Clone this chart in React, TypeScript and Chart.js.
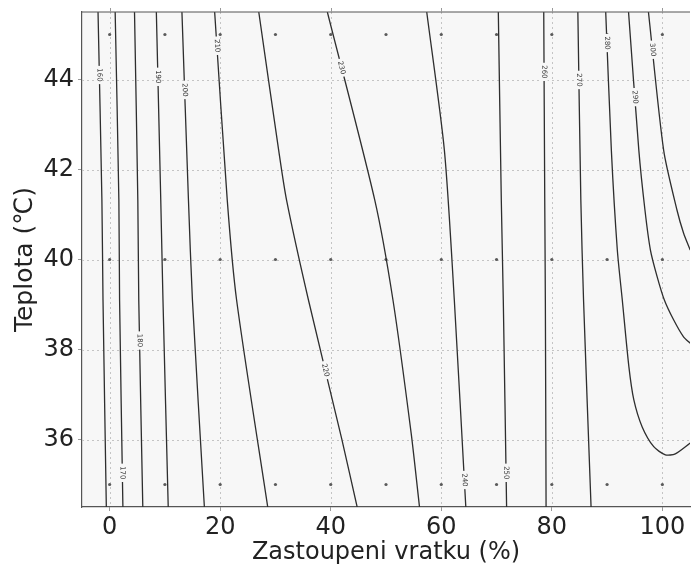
import React, { useEffect, useRef } from 'react';
import { Chart, registerables } from 'chart.js';

Chart.register(...registerables);

// Axis ticks
const xTicks = [0, 20, 40, 60, 80, 100];
const yTicks = [36, 38, 40, 42, 44];

// Measurement grid (sample points)
const sampleX = [0, 10, 20, 30, 40, 50, 60, 70, 80, 90, 100];
const sampleY = [35, 40, 45];

// Contour levels
const levels = [160, 170, 180, 190, 200, 210, 220, 230, 240, 250, 260, 270, 280, 290, 300];

// Contour lines, [x, y] in data units
const c160 = [[-2.1, 45.5], [-1.4, 41.32], [-1.2, 39.1], [-0.6, 34.5]];
const c170 = [[1.0, 45.5], [1.67, 41.32], [1.8, 39.1], [2.4, 34.5]];
const c180 = [[4.5, 45.5], [5.1, 41.32], [5.27, 39.1], [6.0, 34.5]];
const c190 = [[8.45, 45.5], [9.25, 41.32], [9.65, 39.1], [10.6, 34.5]];
const c200 = [[13.08, 45.5], [14.26, 41.32], [14.98, 39.1], [17.14, 34.5]];
const c210 = [[19.0, 45.5], [21.28, 41.32], [22.97, 39.1], [28.6, 34.5]];
const c220 = [[26.98, 45.5], [30.58, 42.43], [32.01, 41.32], [35.97, 39.1], [41.96, 36.03], [44.78, 34.5]];
const c230 = [[39.39, 45.5], [47.97, 41.32], [51.26, 39.1], [54.55, 36.14], [56.06, 34.5]];
const c240 = [[57.37, 45.5], [60.56, 42.43], [62.36, 39.1], [64.44, 34.5]];
const c250 = [[70.32, 45.5], [70.86, 41.32], [71.22, 39.1], [71.82, 34.5]];
const c260 = [[78.54, 45.5], [78.72, 41.32], [78.83, 39.1], [78.96, 34.5]];
const c270 = [[84.71, 45.5], [85.25, 41.32], [85.74, 39.1], [87.1, 34.5]];
const c280 = [[89.75, 45.5], [90.77, 42.43], [91.85, 40.21], [92.75, 39.1], [93.94, 37.62], [94.84, 36.88], [96.35, 36.28], [98.44, 35.84], [100.54, 35.66], [102.34, 35.68], [105.04, 35.92]];
const c290 = [[93.88, 45.5], [95.74, 42.43], [96.85, 41.1], [97.84, 40.21], [99.05, 39.62], [100.36, 39.1], [102.03, 38.66], [103.83, 38.28], [105.04, 38.14]];
const c300 = [[97.48, 45.5], [100.23, 42.43], [102.64, 41.1], [103.83, 40.59], [105.04, 40.21]];

const contours = [c160, c170, c180, c190, c200, c210, c220, c230, c240, c250, c260, c270, c280, c290, c300];

// Inline contour label anchors (data units)
const labelX = [-1.87, 2.3, 5.41, 8.63, 13.61, 19.3, 39.2, 41.5, 64.2, 71.72, 78.6, 84.9, 89.98, 95.0, 98.23];
const labelY = [44.1, 35.26, 38.2, 44.06, 43.77, 44.75, 37.54, 44.26, 35.1, 35.26, 44.17, 43.99, 44.81, 43.61, 44.66];

const xTitle = 'Zastoupeni vratku (%)';
const yTitle = 'Teplota (℃)';

const PLOT_BG = '#f7f7f7';
const LINE_COLOR = '#2e2e2e';
const TEXT_COLOR = '#222222';
const FONT = 'DejaVu Sans';

function xOnLine(pts: number[][], y: number): number {
  for (let k = 0; k < pts.length - 1; k++) {
    const a = pts[k];
    const b = pts[k + 1];
    if ((a[1] - y) * (b[1] - y) <= 0 && a[1] !== b[1]) {
      return a[0] + ((y - a[1]) / (b[1] - a[1])) * (b[0] - a[0]);
    }
  }
  return pts[0][0];
}

const decorPlugin = {
  id: 'decor',
  beforeDraw(chart: any) {
    const { ctx, chartArea: a } = chart;
    ctx.save();
    ctx.fillStyle = PLOT_BG;
    ctx.fillRect(a.left, a.top, a.right - a.left, a.bottom - a.top);
    ctx.restore();
  },
  beforeDatasetsDraw(chart: any) {
    const { ctx, chartArea: a, scales } = chart;
    ctx.save();
    ctx.strokeStyle = '#c4c4c4';
    ctx.lineWidth = 1;
    ctx.setLineDash([2, 3]);
    xTicks.forEach((v) => {
      const px = Math.round(scales.x.getPixelForValue(v)) + 0.5;
      ctx.beginPath();
      ctx.moveTo(px, a.top);
      ctx.lineTo(px, a.bottom);
      ctx.stroke();
    });
    yTicks.forEach((v) => {
      const py = Math.round(scales.y.getPixelForValue(v)) + 0.5;
      ctx.beginPath();
      ctx.moveTo(a.left, py);
      ctx.lineTo(a.right, py);
      ctx.stroke();
    });
    ctx.restore();
  },
  afterDatasetsDraw(chart: any) {
    const { ctx, chartArea: a, scales } = chart;
    const xs = scales.x;
    const ys = scales.y;
    ctx.save();
    ctx.font = `7px "${FONT}"`;
    ctx.textAlign = 'center';
    ctx.textBaseline = 'middle';
    levels.forEach((lvl, i) => {
      const pts = contours[i];
      const ly = labelY[i];
      const lx = Math.abs(xOnLine(pts, ly) - labelX[i]) < 2 ? xOnLine(pts, ly) : labelX[i];
      let j = 0;
      for (let k = 0; k < pts.length - 1; k++) {
        if ((pts[k][1] - ly) * (pts[k + 1][1] - ly) <= 0) { j = k; break; }
      }
      const x1 = xs.getPixelForValue(pts[j][0]);
      const y1 = ys.getPixelForValue(pts[j][1]);
      const x2 = xs.getPixelForValue(pts[j + 1][0]);
      const y2 = ys.getPixelForValue(pts[j + 1][1]);
      let ang = Math.atan2(y2 - y1, x2 - x1);
      if (ang > Math.PI / 2) ang -= Math.PI;
      if (ang < -Math.PI / 2) ang += Math.PI;
      const px = xs.getPixelForValue(lx);
      const py = ys.getPixelForValue(ly);
      const txt = String(lvl);
      const w = ctx.measureText(txt).width;
      ctx.save();
      ctx.translate(px, py);
      ctx.rotate(ang);
      ctx.fillStyle = PLOT_BG;
      ctx.fillRect(-w / 2 - 2.5, -3.5, w + 5, 7);
      ctx.fillStyle = '#333';
      ctx.fillText(txt, 0, 0);
      ctx.restore();
    });
    ctx.restore();
    // top border and top ticks
    ctx.save();
    ctx.strokeStyle = '#555';
    ctx.lineWidth = 1.2;
    ctx.beginPath();
    ctx.moveTo(a.left, a.top);
    ctx.lineTo(a.right, a.top);
    ctx.stroke();
    ctx.strokeStyle = '#999';
    ctx.lineWidth = 1;
    xTicks.forEach((v) => {
      const px = Math.round(xs.getPixelForValue(v)) + 0.5;
      ctx.beginPath();
      ctx.moveTo(px, a.top - 4);
      ctx.lineTo(px, a.top);
      ctx.stroke();
    });
    ctx.restore();
  },
};

export default function App() {
  const canvasRef = useRef<HTMLCanvasElement | null>(null);

  useEffect(() => {
    const canvas = canvasRef.current;
    if (!canvas) return;

    const lineSets = contours.map((pts, i) => ({
      label: String(levels[i]),
      data: pts.map(([x, y]) => ({ x, y })),
      showLine: true,
      borderColor: LINE_COLOR,
      borderWidth: 1.3,
      pointRadius: 0,
      tension: 0.25,
      fill: false,
    }));

    const dots: { x: number; y: number }[] = [];
    sampleY.forEach((y) => sampleX.forEach((x) => dots.push({ x, y })));

    const chart = new Chart(canvas, {
      type: 'scatter',
      data: {
        datasets: [
          ...lineSets,
          {
            label: 'samples',
            data: dots,
            showLine: false,
            pointRadius: 1.6,
            pointBackgroundColor: '#5a5a5a',
            pointBorderWidth: 0,
            borderColor: '#5a5a5a',
          } as any,
        ],
      },
      options: {
        responsive: false,
        animation: false,
        devicePixelRatio: 1,
        layout: { padding: { top: 12, left: 0, right: 0, bottom: 0 } },
        plugins: {
          legend: { display: false },
          tooltip: { enabled: false },
        },
        scales: {
          x: {
            type: 'linear',
            position: 'bottom',
            min: -5,
            max: 105,
            afterBuildTicks: (s: any) => { s.ticks = xTicks.map((v) => ({ value: v })); },
            afterFit: (s: any) => { s.height = 63; s.paddingLeft = 0; s.paddingRight = 0; },
            ticks: {
              font: { family: FONT, size: 24 },
              color: TEXT_COLOR,
              padding: 2,
              maxRotation: 0,
              autoSkip: false,
            },
            grid: { drawOnChartArea: false, drawTicks: true, tickLength: 4, color: '#999' },
            border: { display: true, color: '#555', width: 1.2 },
            title: {
              display: true,
              text: xTitle,
              color: TEXT_COLOR,
              font: { family: FONT, size: 24, lineHeight: 1.2 },
              padding: { top: 0, bottom: 3 },
            },
          },
          y: {
            type: 'linear',
            position: 'left',
            min: 34.5,
            max: 45.5,
            afterBuildTicks: (s: any) => { s.ticks = yTicks.map((v) => ({ value: v })); },
            afterFit: (s: any) => { s.width = 82; s.paddingTop = 0; s.paddingBottom = 0; },
            ticks: {
              font: { family: FONT, size: 24 },
              color: TEXT_COLOR,
              padding: 4,
              autoSkip: false,
            },
            grid: { drawOnChartArea: false, drawTicks: true, tickLength: 4, color: '#999' },
            border: { display: true, color: '#555', width: 1.2 },
            title: {
              display: true,
              text: yTitle,
              color: TEXT_COLOR,
              font: { family: FONT, size: 25, lineHeight: 1.2 },
              padding: { top: 10, bottom: 0 },
            },
          },
        },
      },
      plugins: [decorPlugin],
    });

    return () => chart.destroy();
  }, []);

  return (
    <div style={{ position: 'fixed', left: 0, top: 0, width: 694, height: 570, background: '#ffffff' }}>
      <canvas ref={canvasRef} width={694} height={570} style={{ display: 'block', width: 694, height: 570 }} />
    </div>
  );
}
